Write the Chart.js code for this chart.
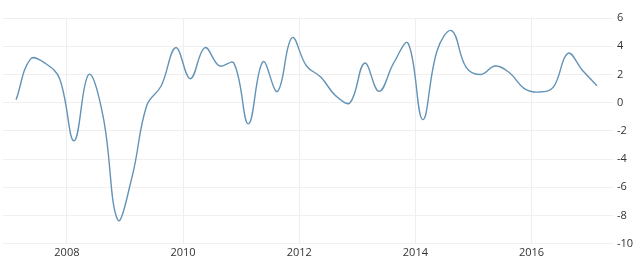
<!DOCTYPE html>
<html>
<head>
<meta charset="utf-8">
<script src="https://cdn.jsdelivr.net/npm/chart.js@4"></script>
<style>
  html, body { margin: 0; padding: 0; background: #fff; }
  #wrap { width: 640px; height: 263px; position: relative; }
</style>
</head>
<body>
<div id="wrap"><canvas id="chart"></canvas></div>
<script>
// quarterly periods, 2007 Q1 .. 2017 Q1
const quarters = [
    '2007Q1','2007Q2','2007Q3','2007Q4',
    '2008Q1','2008Q2','2008Q3','2008Q4',
    '2009Q1','2009Q2','2009Q3','2009Q4',
    '2010Q1','2010Q2','2010Q3','2010Q4',
    '2011Q1','2011Q2','2011Q3','2011Q4',
    '2012Q1','2012Q2','2012Q3','2012Q4',
    '2013Q1','2013Q2','2013Q3','2013Q4',
    '2014Q1','2014Q2','2014Q3','2014Q4',
    '2015Q1','2015Q2','2015Q3','2015Q4',
    '2016Q1','2016Q2','2016Q3','2016Q4',
    '2017Q1'
];

// growth rate, percent
const growth = [
    0.2, 3.1, 2.8, 1.7,
    -2.7, 2.0, -1.0, -8.3,
    -5.2, -0.2, 1.2, 3.9,
    1.7, 3.9, 2.6, 2.8,
    -1.5, 2.9, 0.8, 4.6,
    2.6, 1.8, 0.5, 0.0,
    2.8, 0.8, 2.8, 4.2,
    -1.2, 3.7, 5.1, 2.5,
    2.0, 2.6, 2.1, 1.0,
    0.75, 1.1, 3.5, 2.3,
    1.2
];

const yearTicks = [2008, 2010, 2012, 2014, 2016];
const valueTicks = [6, 4, 2, 0, -2, -4, -6, -8, -10];

// place each quarter at its middle on a decimal-year axis
function quarterToYear(q) {
    const year = parseInt(q.slice(0, 4));
    const n = parseInt(q.slice(5));
    return year + (n - 1) / 4 + 0.125;
}

const points = quarters.map((q, i) => ({ x: quarterToYear(q), y: growth[i] }));

const ctx = document.getElementById('chart').getContext('2d');
new Chart(ctx, {
    type: 'line',
    data: {
        datasets: [{
            data: points,
            borderColor: '#6393b6',
            borderWidth: 1.4,
            pointRadius: 0,
            tension: 0.4,
            fill: false
        }]
    },
    options: {
        responsive: true,
        maintainAspectRatio: false,
        animation: false,
        layout: { padding: { left: 3, right: 3, top: 18, bottom: 2 } },
        plugins: {
            legend: { display: false },
            tooltip: { enabled: false }
        },
        scales: {
            x: {
                type: 'linear',
                min: 2006.9,
                max: 2017.4,
                afterBuildTicks: (scale) => {
                    scale.ticks = yearTicks.map(v => ({ value: v }));
                },
                grid: { color: '#eeeef2', drawTicks: false },
                border: { display: false },
                ticks: {
                    color: '#333',
                    font: { family: 'Open Sans', size: 11 },
                    padding: 2,
                    maxRotation: 0,
                    callback: (v) => String(v)
                }
            },
            y: {
                position: 'right',
                min: -10,
                max: 6,
                afterBuildTicks: (scale) => {
                    scale.ticks = valueTicks.map(v => ({ value: v }));
                },
                grid: { color: '#f0f0f0', drawTicks: false },
                border: { display: false },
                ticks: {
                    color: '#333',
                    font: { family: 'Open Sans', size: 11 },
                    padding: 4
                }
            }
        }
    }
});
</script>
</body>
</html>
